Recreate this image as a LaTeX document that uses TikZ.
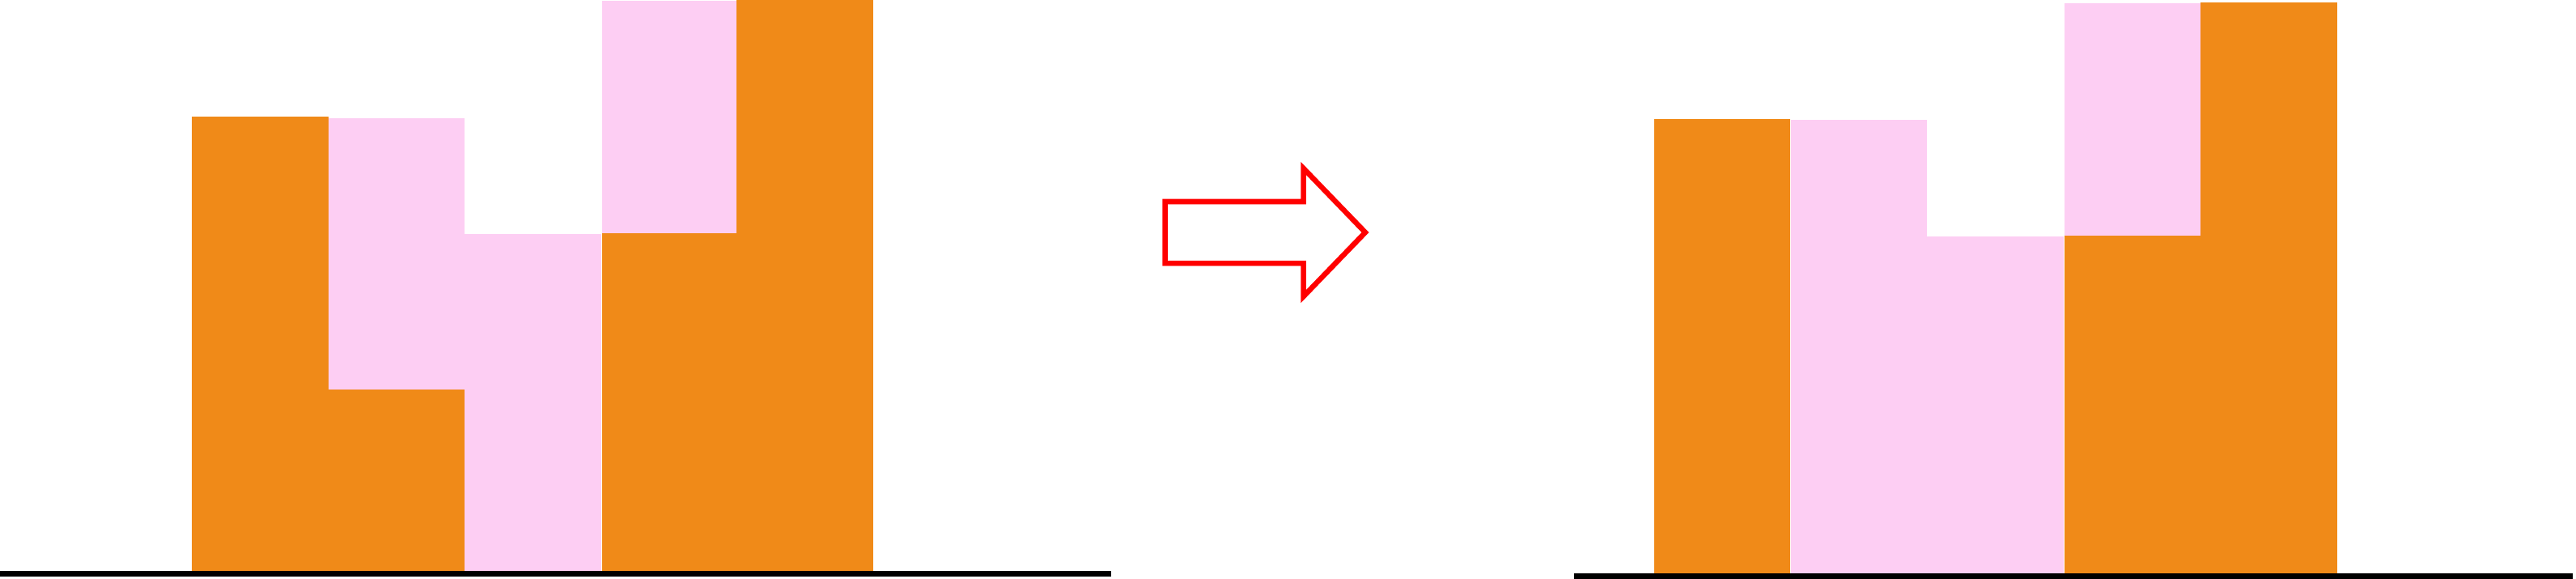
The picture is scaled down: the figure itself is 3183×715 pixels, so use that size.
\documentclass[tikz,border=0pt]{standalone}
\definecolor{barorange}{RGB}{240,138,24}
\definecolor{barpink}{RGB}{253,206,243}
\tikzset{
  orangebar/.style={fill=barorange},
  pinkbar/.style={fill=barpink},
  groundline/.style={fill=black},
  bigarrow/.style={draw=red, line width=0.065cm, fill=white, miter limit=10}
}
\begin{document}
\begin{tikzpicture}[x=0.01cm,y=-0.01cm]
\useasboundingbox (0,0) rectangle (3183,715);
% left panel
\fill[orangebar] (237,144) rectangle (406,705);
\fill[pinkbar]   (406,146) rectangle (574,481);
\fill[orangebar] (406,481) rectangle (574,705);
\fill[pinkbar]   (574,289) rectangle (743,705);
\fill[pinkbar]   (744,1)   rectangle (910,288);
\fill[orangebar] (744,288) rectangle (910,705);
\fill[orangebar] (910,0)   rectangle (1079,705);
\fill[groundline] (0,705) rectangle (1373,712);
% arrow
\draw[bigarrow] (1439.5,249) -- (1610.7,249) -- (1610.7,208) -- (1687,287)
  -- (1610.7,366) -- (1610.7,325) -- (1439.5,325) -- cycle;
% right panel
\fill[orangebar] (2044,147) rectangle (2212,708);
\fill[pinkbar]   (2213,148) rectangle (2381,708);
\fill[pinkbar]   (2381,292) rectangle (2550,708);
\fill[pinkbar]   (2551,4)   rectangle (2719,291);
\fill[orangebar] (2551,291) rectangle (2719,708);
\fill[orangebar] (2719,3)   rectangle (2888,708);
\fill[groundline] (1945,708) rectangle (3179,715);
\end{tikzpicture}
\end{document}
